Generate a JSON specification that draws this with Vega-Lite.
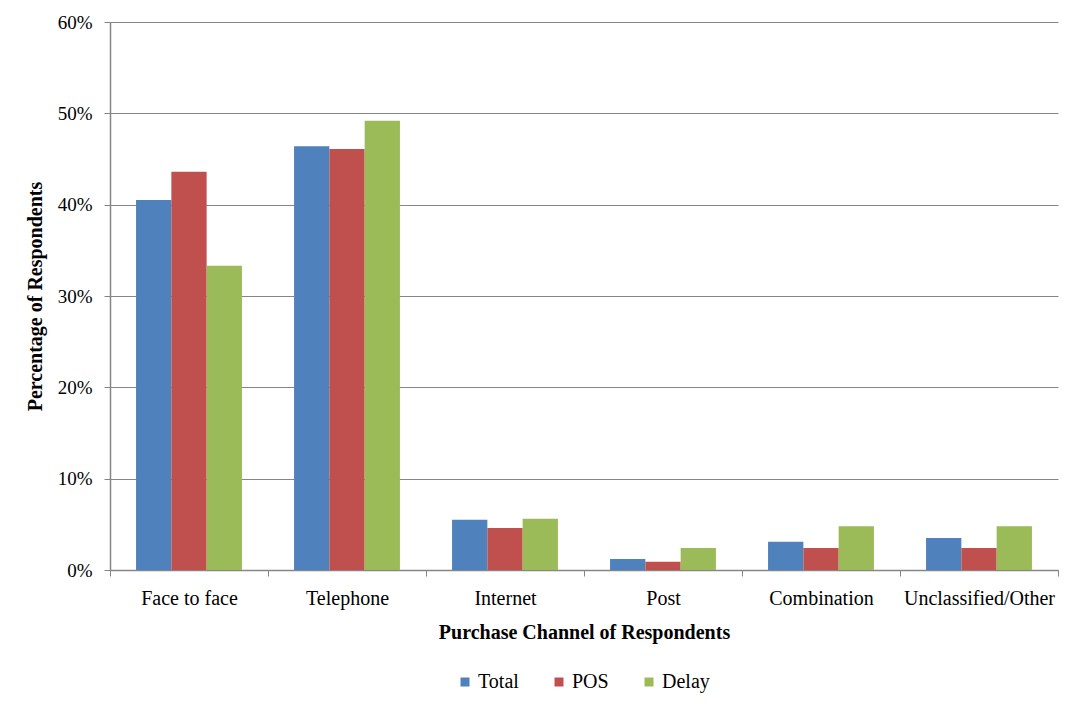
{
  "$schema": "https://vega.github.io/schema/vega-lite/v6.json",
  "width": 948,
  "height": 548,
  "autosize": {"type": "none"},
  "padding": {"left": 110, "top": 22, "right": 16, "bottom": 134},
  "background": "white",
  "config": {
    "view": {"stroke": null},
    "font": "Liberation Serif",
    "axis": {"labelFont": "Liberation Serif", "titleFont": "Liberation Serif", "labelColor": "black", "titleColor": "black", "domainColor": "#868686", "tickColor": "#868686", "gridColor": "#868686"},
    "legend": {"labelFont": "Liberation Serif", "labelColor": "black"}
  },
  "data": {
    "values": [
      {"channel": "Face to face", "series": "Total", "value": 0.405},
      {"channel": "Face to face", "series": "POS", "value": 0.436},
      {"channel": "Face to face", "series": "Delay", "value": 0.333},
      {"channel": "Telephone", "series": "Total", "value": 0.464},
      {"channel": "Telephone", "series": "POS", "value": 0.461},
      {"channel": "Telephone", "series": "Delay", "value": 0.492},
      {"channel": "Internet", "series": "Total", "value": 0.055},
      {"channel": "Internet", "series": "POS", "value": 0.046},
      {"channel": "Internet", "series": "Delay", "value": 0.056},
      {"channel": "Post", "series": "Total", "value": 0.012},
      {"channel": "Post", "series": "POS", "value": 0.009},
      {"channel": "Post", "series": "Delay", "value": 0.024},
      {"channel": "Combination", "series": "Total", "value": 0.031},
      {"channel": "Combination", "series": "POS", "value": 0.024},
      {"channel": "Combination", "series": "Delay", "value": 0.048},
      {"channel": "Unclassified/Other", "series": "Total", "value": 0.035},
      {"channel": "Unclassified/Other", "series": "POS", "value": 0.024},
      {"channel": "Unclassified/Other", "series": "Delay", "value": 0.048}
    ]
  },
  "mark": {"type": "bar"},
  "encoding": {
    "x": {
      "field": "channel",
      "type": "nominal",
      "sort": ["Face to face", "Telephone", "Internet", "Post", "Combination", "Unclassified/Other"],
      "scale": {"paddingInner": 0, "paddingOuter": 0},
      "axis": {
        "title": "Purchase Channel of Respondents",
        "titleFont": "Liberation Serif",
        "titleFontSize": 20,
        "titleFontWeight": "bold",
        "titlePadding": 14,
        "labelFont": "Liberation Serif",
        "labelFontSize": 20,
        "labelAngle": 0,
        "labelPadding": 12,
        "tickSize": 6,
        "tickBand": "extent",
        "domainWidth": 1.5
      }
    },
    "xOffset": {
      "field": "series",
      "type": "nominal",
      "sort": ["Total", "POS", "Delay"],
      "scale": {"paddingInner": 0, "paddingOuter": 0.738}
    },
    "y": {
      "field": "value",
      "type": "quantitative",
      "scale": {"domain": [0, 0.6], "nice": false},
      "axis": {
        "title": "Percentage of Respondents",
        "titleFont": "Liberation Serif",
        "titleFontSize": 20,
        "titleFontWeight": "bold",
        "titlePadding": 12,
        "format": ".0%",
        "values": [0, 0.1, 0.2, 0.3, 0.4, 0.5, 0.6],
        "labelFont": "Liberation Serif",
        "labelFontSize": 19,
        "labelPadding": 12,
        "labelOverlap": false,
        "tickSize": 6,
        "grid": true,
        "domainWidth": 1.5
      }
    },
    "color": {
      "field": "series",
      "type": "nominal",
      "sort": ["Total", "POS", "Delay"],
      "scale": {"domain": ["Total", "POS", "Delay"], "range": ["#4F81BD", "#C0504D", "#9BBB59"]},
      "legend": {
        "title": null,
        "orient": "none",
        "direction": "horizontal",
        "legendX": 345,
        "legendY": 650,
        "symbolType": "square",
        "symbolSize": 81,
        "symbolStrokeWidth": 0,
        "labelFont": "Liberation Serif",
        "labelFontSize": 20,
        "columnPadding": 30,
        "labelOffset": 3
      }
    }
  }
}
